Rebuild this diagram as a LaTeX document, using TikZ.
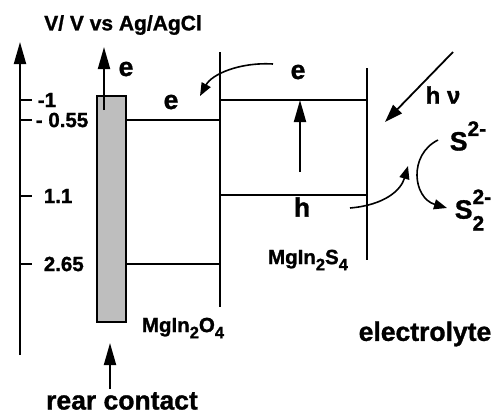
\documentclass[tikz,border=0pt]{standalone}
\usepackage{fontspec}
\setmainfont{Liberation Sans}[BoldFeatures={FakeBold=1.2}]
\usepackage{amsmath}
\usetikzlibrary{arrows.meta,positioning,calc}
\definecolor{contactgray}{RGB}{190,190,190}
\newcommand{\ionsup}[1]{\raisebox{0.55em}{\fontsize{21}{21}\selectfont #1}}
\newcommand{\ionsub}[1]{\raisebox{-0.45em}{\fontsize{21}{21}\selectfont #1}}
\newcommand{\chemsub}[1]{\raisebox{-0.3em}{\fontsize{16.5}{16.5}\selectfont #1}}

\begin{document}
\begin{tikzpicture}[x=1pt, y=-1pt, font=\bfseries, line width=1.7pt]
  \useasboundingbox (0,0) rectangle (501,416);

  \tikzset{
    bigarrow/.style={-{Triangle[length=22pt,width=12pt]}, line width=1.8pt},
    smallarrow/.style={-{Triangle[length=13pt,width=10pt]}, line width=1.6pt},
    biglbl/.style={font=\fontsize{26.5}{29}\selectfont\bfseries, inner sep=0pt},
    ticklbl/.style={font=\fontsize{20.5}{22}\selectfont\bfseries, anchor=west, inner sep=0pt},
    matlbl/.style={font=\fontsize{20.5}{22}\selectfont\bfseries, inner sep=0pt}
  }

  % potential axis
  \node[font=\fontsize{21}{23}\selectfont\bfseries, inner sep=0pt] (axistitle) at (123, 25) {V/ V vs Ag/AgCl};
  \coordinate (axisbot) at (20, 355);
  \coordinate (axistop) at (20, 42);
  \draw[bigarrow] (axisbot) -- (axistop);
  \foreach \y/\t/\x [count=\i] in {100/-1/37, 120/- 0.55/35, 196/1.1/43, 264/2.65/43} {
    \draw (20, \y) -- (32, \y);
    \node[ticklbl] (tick\i) at (\x, \y) {\t};
  }

  % rear contact
  \draw[fill=contactgray, line width=1.5pt] (97, 96) rectangle (126, 322);
  \coordinate (ebot) at (104, 110);
  \coordinate (etop) at (104, 47);
  \draw[bigarrow] (ebot) -- (etop);
  \node[biglbl] (eback) at (126, 69) {e};
  \node[biglbl] (rear) at (122, 401) {rear contact};
  \coordinate (rearbot) at (110, 389);
  \coordinate (reartop) at (110, 343);
  \draw[bigarrow] (rearbot) -- (reartop);

  % MgIn2O4 bands
  \draw (126, 120) -- (220, 120);
  \draw (126, 264) -- (220, 264);
  \draw (220, 52) -- (220, 307);
  \node[biglbl] (eO) at (171, 102) {e};
  \node[matlbl] (oxide) at (183, 328) {MgIn\chemsub{2}O\chemsub{4}};

  % MgIn2S4 bands
  \draw (220, 100) -- (367, 100);
  \draw (220, 195) -- (367, 195);
  \draw (367, 68) -- (367, 260);
  \node[biglbl] (eS) at (298, 72) {e};
  \node[biglbl] (hS) at (302, 207) {h};
  \node[matlbl] (sulfide) at (308, 260) {MgIn\chemsub{2}S\chemsub{4}};
  \coordinate (excbot) at (300, 172);
  \coordinate (exctop) at (300, 100);
  \draw[bigarrow] (excbot) -- (exctop);

  % electron transfer S -> O
  \coordinate (etrA) at (273, 64);
  \coordinate (etrB) at (200, 96);
  \draw[smallarrow] (etrA) .. controls (240, 62) and (212, 74) .. (etrB);

  % light
  \coordinate (lightA) at (453, 52);
  \coordinate (lightB) at (385, 122);
  \draw[-{Triangle[length=18pt,width=12pt]}, line width=1.8pt] (lightA) -- (lightB);
  \node[font=\fontsize{24}{26}\selectfont\bfseries, inner sep=0pt] (hnu) at (443, 95) {h ν};

  % electrolyte side
  \node[biglbl, anchor=west] (sion) at (449, 136) {S\ionsup{2-}};
  \node[biglbl, anchor=west] (spoly) at (454, 210) {S\rlap{\ionsup{2-}}\ionsub{2}};
  \coordinate (holeA) at (350, 208);
  \coordinate (holeB) at (408, 166);
  \draw[smallarrow] (holeA) .. controls (385, 205) and (401, 190) .. (holeB);
  \coordinate (oxA) at (438, 140);
  \coordinate (oxB) at (447, 208);
  \draw[smallarrow] (oxA) .. controls (408, 155) and (413, 198) .. (oxB);
  \node[biglbl] (elyte) at (425, 334) {electrolyte};
\end{tikzpicture}
\end{document}
